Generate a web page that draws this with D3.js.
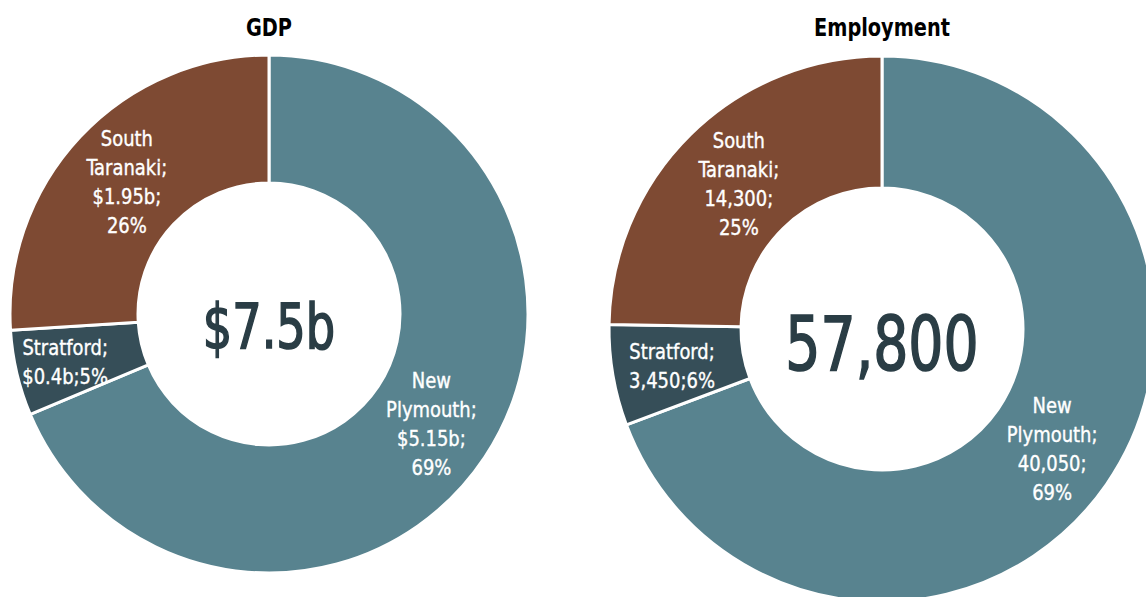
<!DOCTYPE html>
<html>
<head>
<meta charset="utf-8">
<script src="https://cdn.jsdelivr.net/npm/d3@7"></script>
<style>
  html, body { margin: 0; padding: 0; background: #fff; }
  svg text { font-family: "Liberation Sans Narrow", "DejaVu Sans Condensed", "Roboto Condensed", sans-serif; }
</style>
</head>
<body>
<div id="chart"></div>
<script>
// regions, in the order the slices run clockwise from 12 o'clock
const regions = ["New Plymouth", "Stratford", "South Taranaki"];
const regionColors = ["#58838f", "#364e58", "#7e4a33"];

// GDP, $ billion
const gdpValues = [5.15, 0.4, 1.95];
const gdpTotal = "$7.5b";

// employment, people
const employmentValues = [40050, 3450, 14300];
const employmentTotal = "57,800";

const width = 1146, height = 597;

const svg = d3.select('#chart').append('svg')
  .attr('width', width)
  .attr('height', height);

const pct = d3.format('.0%');

// one donut per measure
const charts = [
  { title: 'GDP', values: gdpValues, total: gdpTotal, fmt: v => '$' + v + 'b',
    cx: 269, cy: 314, outer: 259, inner: 131, totalSize: 62,
    nudge: [[0, 2], [-14, 4], [0, 2]] },
  { title: 'Employment', values: employmentValues, total: employmentTotal, fmt: d3.format(','),
    cx: 882, cy: 329, outer: 273, inner: 141, totalSize: 74,
    nudge: [[0, 2], [-6, 2], [2, 3]] }
];

const pie = d3.pie().sort(null);

charts.forEach(c => {
  const g = svg.append('g')
    .attr('transform', `translate(${c.cx}, ${c.cy})`);

  const arc = d3.arc().innerRadius(c.inner).outerRadius(c.outer);
  const sum = d3.sum(c.values);
  const arcs = pie(c.values);

  g.selectAll('path')
    .data(arcs)
    .enter().append('path')
    .attr('d', arc)
    .attr('fill', (d, i) => regionColors[i])
    .attr('stroke', '#fff')
    .attr('stroke-width', 3)
    .attr('stroke-linejoin', 'round');

  // slice labels: small slices get a two-line label
  const labels = g.selectAll('text.lbl')
    .data(arcs)
    .enter().append('text')
    .attr('class', 'lbl')
    .attr('fill', '#fff')
    .attr('stroke', '#fff')
    .attr('stroke-width', 0.35)
    .attr('font-size', 21)
    .attr('text-anchor', 'middle')
    .attr('transform', (d, i) => {
      const [x, y] = arc.centroid(d);
      return `translate(${x + c.nudge[i][0]}, ${y + c.nudge[i][1]}) scale(0.95, 1)`;
    });

  labels.each(function(d, i) {
    const name = regions[i];
    const share = pct(d.value / sum);
    let lines;
    if (d.endAngle - d.startAngle < 0.5) {
      lines = [name + ';', c.fmt(d.value) + ';' + share];
    } else {
      const words = name.split(' ');
      words[words.length - 1] += ';';
      lines = words.concat([c.fmt(d.value) + ';', share]);
    }
    const lh = 29;
    const top = -(lines.length - 1) * lh / 2;
    d3.select(this).selectAll('tspan')
      .data(lines)
      .enter().append('tspan')
      .attr('x', 0)
      .attr('y', (l, k) => top + k * lh)
      .attr('dy', '0.35em')
      .text(l => l);
  });

  // total in the hole, squeezed to the narrow face of the original
  g.append('text')
    .attr('text-anchor', 'middle')
    .attr('transform', `translate(0, ${c.totalSize * 0.55}) scale(0.83, 1)`)
    .attr('font-size', c.totalSize)
    .attr('fill', '#2a3d45')
    .attr('stroke', '#2a3d45')
    .attr('stroke-width', 1.6)
    .text(c.total);

  svg.append('text')
    .attr('transform', `translate(${c.cx}, 36) scale(0.86, 1)`)
    .attr('text-anchor', 'middle')
    .attr('font-size', 25)
    .attr('font-weight', 'bold')
    .attr('fill', '#000')
    .text(c.title);
});
</script>
</body>
</html>
